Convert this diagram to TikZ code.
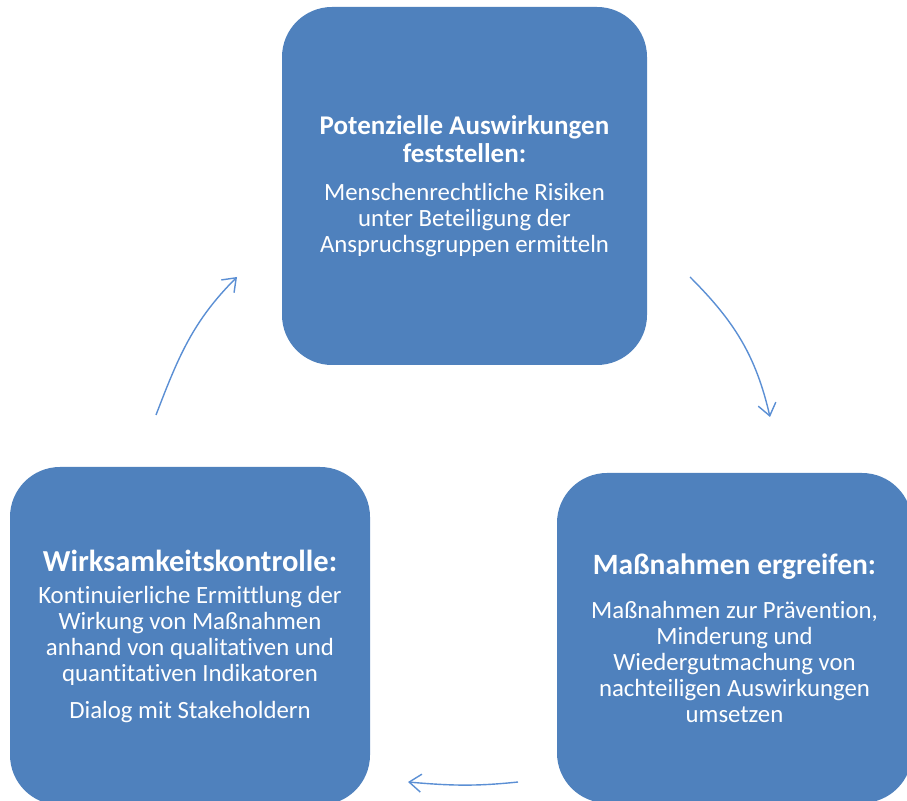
\documentclass[tikz,border=0pt]{standalone}
\usepackage{fontspec}
\setmainfont{Carlito}[Ligatures=NoCommon]
\usetikzlibrary{arrows.meta}
\definecolor{boxblue}{HTML}{4F81BD}
\definecolor{arrowblue}{HTML}{5B8FD4}

\begin{document}
\begin{tikzpicture}[x=1pt, y=1pt,
	box/.style={fill=boxblue, rounded corners=50pt, text=white, align=center, inner sep=0pt,
		font=\fontsize{24.8}{26}\selectfont},
	cyc/.style={arrowblue, line width=1.4pt, -{Straight Barb[length=12pt, width=18pt]}}]
	\useasboundingbox (0,0) rectangle (907,800);
	\clip (0,0) rectangle (907,800);
	\node [box, minimum width=365, minimum height=358] (detect) at (464.5,614)
		{\textbf{\fontsize{27}{26}\selectfont Potenzielle Auswirkungen}\\[2pt]
		 \textbf{\fontsize{27}{26}\selectfont feststellen:}\\[12pt]
		 Menschenrechtliche Risiken\\ unter Beteiligung der\\ Anspruchsgruppen ermitteln};
	\node [box, minimum width=355, minimum height=330] (act) at (734.5,162)
		{\textbf{\fontsize{29.5}{26}\selectfont Maßnahmen ergreifen:}\\[18pt]
		 Maßnahmen zur Prävention,\\ Minderung und\\ Wiedergutmachung von\\
		 nachteiligen Auswirkungen\\ umsetzen};
	\node [box, minimum width=360, minimum height=338] (check) at (190,164)
		{\textbf{\fontsize{30.5}{26}\selectfont Wirksamkeitskontrolle:}\\[6pt]
		 Kontinuierliche Ermittlung der\\ Wirkung von Maßnahmen\\
		 anhand von qualitativen und\\ quantitativen Indikatoren\\[11pt]
		 Dialog mit Stakeholdern};
	\coordinate (a1) at (156,385);
	\coordinate (b1) at (237,523);
	\coordinate (a2) at (690,523);
	\coordinate (b2) at (770,383);
	\coordinate (a3) at (518,18);
	\coordinate (b3) at (408,18);
	\draw [cyc] (a1) to [out=69, in=225] (b1);
	\draw [cyc] (a2) to [out=-45, in=103] (b2);
	\draw [cyc] (a3) to [out=186, in=-5] (b3);
\end{tikzpicture}
\end{document}
